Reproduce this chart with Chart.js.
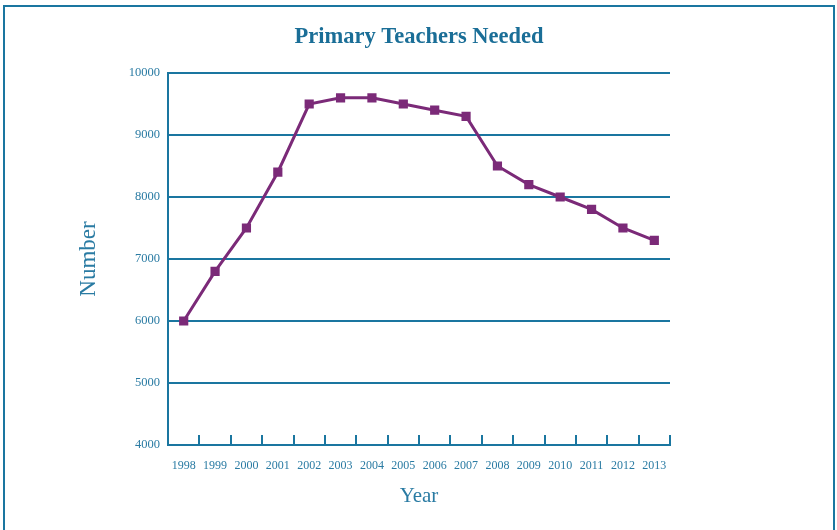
<!DOCTYPE html>
<html>
<head>
<meta charset="utf-8">
<script src="https://cdn.jsdelivr.net/npm/chart.js@4/dist/chart.umd.min.js"></script>
<style>
  html, body { margin: 0; padding: 0; background: #ffffff; }
  #wrap { width: 837px; height: 530px; position: relative; }
</style>
</head>
<body>
<div id="wrap"><canvas id="c" width="837" height="530"></canvas></div>
<script>
const years = ['1998','1999','2000','2001','2002','2003','2004','2005','2006','2007','2008','2009','2010','2011','2012','2013'];
const teachersNeeded = [6000, 6800, 7500, 8400, 9500, 9600, 9600, 9500, 9400, 9300, 8500, 8200, 8000, 7800, 7500, 7300];
const yMin = 4000;
const yMax = 10000;
const yStep = 1000;

const BLUE = '#1a76a0';
const TEXT = '#2a7ba3';
const PURPLE = '#7b2a78';
const SERIF = "'Liberation Serif', 'DejaVu Serif', serif";

const framePlugin = {
  id: 'frame',
  beforeDraw(chart) {
    const ctx = chart.ctx;
    ctx.save();
    ctx.fillStyle = '#ffffff';
    ctx.fillRect(0, 0, chart.width, chart.height);
    ctx.strokeStyle = BLUE;
    ctx.lineWidth = 2;
    ctx.strokeRect(4, 6, 830, 600);
    ctx.restore();
  }
};

const upTicksPlugin = {
  id: 'upTicks',
  afterDatasetsDraw(chart) {
    const x = chart.scales.x;
    const area = chart.chartArea;
    const ctx = chart.ctx;
    ctx.save();
    ctx.strokeStyle = BLUE;
    ctx.lineWidth = 2;
    ctx.beginPath();
    for (let i = 0; i <= years.length; i++) {
      const px = Math.round(x.getPixelForValue(i - 0.5));
      ctx.moveTo(px, area.bottom);
      ctx.lineTo(px, area.bottom - 10);
    }
    ctx.stroke();
    ctx.restore();
  }
};

new Chart(document.getElementById('c'), {
  type: 'line',
  data: {
    labels: years,
    datasets: [{
      label: 'Primary Teachers Needed',
      data: teachersNeeded,
      borderColor: PURPLE,
      backgroundColor: PURPLE,
      borderWidth: 3,
      pointStyle: 'rect',
      pointRadius: 6.5,
      pointBorderWidth: 0,
      pointBackgroundColor: PURPLE,
      tension: 0,
      fill: false
    }]
  },
  options: {
    responsive: false,
    animation: false,
    devicePixelRatio: 1,
    layout: { padding: { left: 0, right: 167, top: 0, bottom: 0 } },
    plugins: {
      legend: { display: false },
      tooltip: { enabled: false },
      title: {
        display: true,
        fullSize: false,
        text: 'Primary Teachers Needed',
        color: '#1a6e97',
        font: { family: SERIF, size: 22.5, weight: 'bold' },
        padding: { top: 24, bottom: 22 }
      }
    },
    scales: {
      x: {
        type: 'category',
        offset: true,
        afterFit(scale) { scale.height = 85; },
        grid: { display: false, drawTicks: false },
        border: { display: true, color: BLUE, width: 2 },
        ticks: {
          color: TEXT,
          font: { family: SERIF, size: 12 },
          padding: 14,
          maxRotation: 0,
          autoSkip: false
        },
        title: {
          display: true,
          text: 'Year',
          color: TEXT,
          font: { family: SERIF, size: 21 },
          padding: 21
        }
      },
      y: {
        min: yMin,
        max: yMax,
        afterFit(scale) { scale.width = 168; },
        grid: { color: BLUE, lineWidth: 2, drawTicks: false },
        border: { display: true, color: BLUE, width: 2 },
        ticks: {
          stepSize: yStep,
          color: TEXT,
          font: { family: SERIF, size: 12.5 },
          padding: 8,
          callback: (v) => String(v)
        },
        title: {
          display: true,
          text: 'Number',
          color: TEXT,
          font: { family: SERIF, size: 23 },
          padding: 75
        }
      }
    }
  },
  plugins: [framePlugin, upTicksPlugin]
});
</script>
</body>
</html>
